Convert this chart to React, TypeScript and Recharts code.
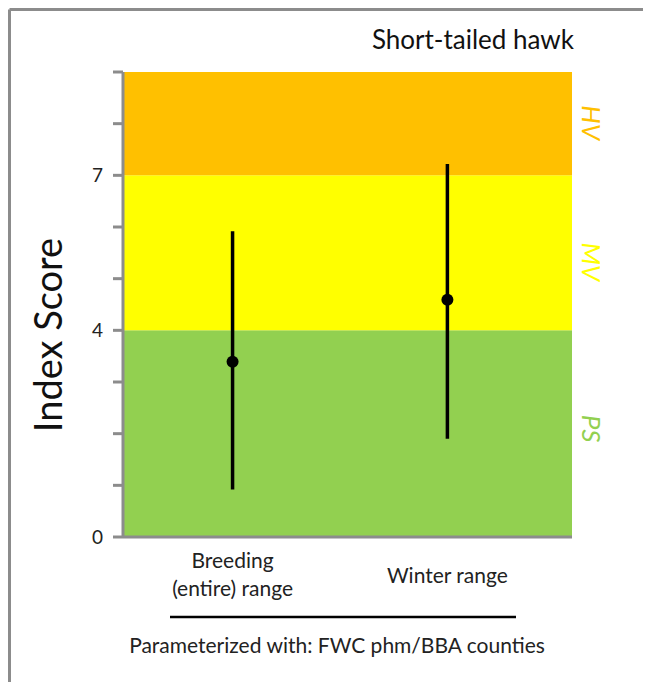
import React from 'react';
import { ComposedChart, Scatter, XAxis, YAxis, ErrorBar, ReferenceArea } from 'recharts';

const categories = ['Breeding\n(entire) range', 'Winter range'];
const means = [3.39, 4.59];
const lows = [0.92, 1.9];
const highs = [5.92, 7.22];

const bandNames = ['PS', 'MV', 'HV'];
const bandLows = [0, 4, 7];
const bandHighs = [4, 7, 9];
const bandColors = ['#92D050', '#FFFF00', '#FFC000'];
const bandLabelShift = [-5, 9, -1];

const yTicks = [0, 1, 2, 3, 4, 5, 6, 7, 8, 9];
const yLabelTicks = [0, 4, 7];
const xTicks = [0, 1];

const title = 'Short-tailed hawk';
const yTitle = 'Index Score';
const footer = 'Parameterized with: FWC phm/BBA counties';

const data = categories.map((c, i) => ({
  x: i,
  y: means[i],
  err: [means[i] - lows[i], highs[i] - means[i]],
}));

const FONT = 'Lato, "Open Sans", sans-serif';
const GRAY = '#8c8c8c';

const XTick = (props: any) => {
  const { x, y, payload } = props;
  const lines = categories[payload.value].split('\n');
  const start = lines.length === 1 ? 46 : 31;
  return (
    <g>
      {lines.map((l, i) => (
        <text key={i} x={x} y={y + start + i * 28} textAnchor="middle" fontSize={21} fill="#222" fontFamily={FONT}>
          {l}
        </text>
      ))}
    </g>
  );
};

const bandLabel = (i: number) => (props: any) => {
  const vb = props.viewBox;
  const cx = vb.x + vb.width + 10;
  const cy = vb.y + vb.height / 2 + bandLabelShift[i];
  return (
    <text
      transform={`translate(${cx}, ${cy}) rotate(90)`}
      textAnchor="middle"
      fontSize={26}
      fontStyle="italic"
      fill={bandColors[i]}
      fontFamily={FONT}
    >
      {bandNames[i]}
    </text>
  );
};

export default function App() {
  return (
    <div style={{ position: 'relative', width: 700, height: 680, overflow: 'hidden', fontFamily: FONT }}>
      <style>{'html, body { overflow: hidden; }'}</style>
      <ComposedChart
        width={700}
        height={680}
        data={data}
        accessibilityLayer={false}
        margin={{ top: 64, right: 136, bottom: 0, left: 0 }}
        style={{ fontFamily: FONT, outline: 'none' }}
      >
        <line x1={1.5} y1={1.5} x2={700} y2={1.5} stroke={GRAY} strokeWidth={3} />
        <line x1={1.5} y1={1.5} x2={1.5} y2={680} stroke={GRAY} strokeWidth={3} />
        {bandNames.map((n, i) => (
          <ReferenceArea
            key={n}
            y1={bandLows[i]}
            y2={bandHighs[i]}
            fill={bandColors[i]}
            fillOpacity={1}
            stroke="none"
            ifOverflow="visible"
            label={bandLabel(i)}
          />
        ))}
        <XAxis
          type="number"
          dataKey="x"
          domain={[-0.51, 1.58]}
          ticks={xTicks}
          interval={0}
          allowDataOverflow
          tick={<XTick />}
          tickLine={false}
          tickSize={0}
          tickMargin={0}
          axisLine={{ stroke: GRAY, strokeWidth: 3 }}
          height={151}
        />
        <YAxis
          type="number"
          domain={[0, 9]}
          ticks={yTicks}
          interval={0}
          allowDataOverflow
          tickFormatter={(v: number) => (yLabelTicks.includes(v) ? String(v) : '')}
          width={115}
          tickSize={10}
          tickMargin={10}
          tickLine={{ stroke: GRAY, strokeWidth: 3 }}
          axisLine={{ stroke: GRAY, strokeWidth: 3 }}
          tick={{ fill: '#222', fontSize: 19, fontFamily: FONT }}
        />
        <Scatter
          dataKey="y"
          isAnimationActive={false}
          fill="#000"
          shape={(p: any) => <circle cx={p.cx} cy={p.cy} r={6} fill="#000" />}
        >
          <ErrorBar dataKey="err" direction="y" width={0} stroke="#000" strokeWidth={3.5} isAnimationActive={false} />
        </Scatter>
        <text x={566} y={41} textAnchor="end" fontSize={26} fill="#111" fontFamily={FONT}>
          {title}
        </text>
        <text transform="translate(54, 327) rotate(-90)" textAnchor="middle" fontSize={38} fill="#111" fontFamily={FONT}>
          {yTitle}
        </text>
        <line x1={162} y1={609} x2={508} y2={609} stroke="#000" strokeWidth={2.5} />
        <text x={329} y={645} textAnchor="middle" fontSize={21} fill="#222" fontFamily={FONT}>
          {footer}
        </text>
      </ComposedChart>
    </div>
  );
}
